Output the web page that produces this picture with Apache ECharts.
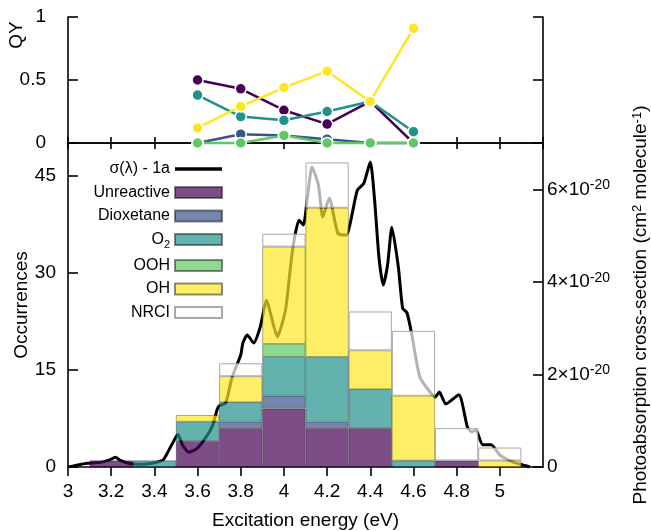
<!DOCTYPE html>
<html>
<head>
<meta charset="utf-8">
<script src="https://cdn.jsdelivr.net/npm/echarts@6/dist/echarts.min.js"></script>
<style>
  html, body { margin: 0; padding: 0; background: #fff; }
  #chartDom { width: 651px; height: 531px; }
</style>
</head>
<body>
<div id="chartDom"></div>
<script>
// bin centres of the histogram (eV), bins are 0.2 eV wide
var binCentres = [3.2, 3.4, 3.6, 3.8, 4.0, 4.2, 4.4, 4.6, 4.8, 5.0];
var unreactive = [1, 0, 4, 6, 9, 6, 6, 0, 1, 0];
var dioxetane  = [0, 0, 0, 1, 2, 1, 0, 0, 0, 0];
var o2         = [0, 1, 3, 3, 6, 10, 6, 1, 0, 0];
var ooh        = [0, 0, 0, 0, 2, 0, 0, 0, 0, 0];
var oh         = [0, 0, 1, 4, 15, 23, 6, 10, 0, 1];
var nrci       = [0, 0, 0, 2, 2, 7, 6, 10, 5, 2];

// slots of the hidden category axis used for stacking (same span as the energy axis)
var histSlots = [3.0, 3.2, 3.4, 3.6, 3.8, 4.0, 4.2, 4.4, 4.6, 4.8, 5.0, 5.2];

// quantum yields (top panel)
var qyEnergy     = [3.6, 3.8, 4.0, 4.2, 4.4, 4.6];
var qyUnreactive = [0.5, 0.43, 0.26, 0.15, 0.33, 0];
var qyDioxetane  = [0, 0.07, 0.06, 0.03, 0, 0];
var qyO2         = [0.38, 0.21, 0.18, 0.25, 0.33, 0.09];
var qyOOH        = [0, 0, 0.06, 0, 0, 0];
var qyOH         = [0.12, 0.29, 0.44, 0.57, 0.33, 0.91];

// absorption spectrum, x in eV, y in 1e-20 cm2 molecule-1
var specEnergy = [3.00, 3.04, 3.09, 3.15, 3.19, 3.22, 3.24, 3.28, 3.33, 3.39, 3.44, 3.46, 3.50, 3.51, 3.53, 3.56,
  3.60, 3.64, 3.67, 3.69, 3.70, 3.73, 3.76, 3.80, 3.81, 3.83, 3.86, 3.89, 3.92, 3.94, 3.97, 3.99, 4.01, 4.04,
  4.07, 4.09, 4.11, 4.13, 4.16, 4.18, 4.21, 4.25, 4.29, 4.31, 4.34, 4.37, 4.40, 4.42, 4.44, 4.46, 4.48, 4.50,
  4.53, 4.55, 4.57, 4.59, 4.63, 4.68, 4.70, 4.72, 4.75, 4.81, 4.85, 4.87, 4.89, 4.92, 4.96, 5.00, 5.06, 5.11, 5.14];
var specValue = [0, 0.04, 0.08, 0.1, 0.15, 0.21, 0.15, 0.08, 0.06, 0.08, 0.15, 0.3, 0.65, 0.7, 0.48, 0.32,
  0.41, 0.65, 0.9, 1.23, 1.32, 1.38, 1.94, 2.42, 2.68, 2.85, 2.68, 3.02, 3.6, 3.28, 2.81, 3.07, 3.46, 4.69,
  5.33, 5.23, 5.87, 6.48, 6.09, 5.4, 5.81, 5.05, 5.01, 5.33, 5.98, 6.13, 6.59, 5.77, 4.54, 3.93, 4.36, 5.18,
  4.32, 3.43, 3.33, 2.92, 1.94, 1.6, 1.51, 1.62, 1.36, 1.56, 0.86, 0.76, 0.8, 0.48, 0.48, 0.26, 0.11, 0.04, 0];

var barNames = ['Unreactive', 'Dioxetane', 'O2', 'OOH', 'OH', 'NRCI'];
var barData = [unreactive, dioxetane, o2, ooh, oh, nrci];
var barColors = ['rgba(68,1,84,0.7)', 'rgba(59,82,139,0.7)', 'rgba(33,145,140,0.7)',
  'rgba(94,201,98,0.7)', 'rgba(253,231,37,0.7)', 'rgba(255,255,255,0.7)'];
var qyData = [qyUnreactive, qyDioxetane, qyO2, qyOOH, qyOH];
var qyColors = ['#440154', '#3b528b', '#21918c', '#5ec962', '#fde725'];

var FONT = 'Liberation Sans';
var TICK_FS = 19;
var chart = echarts.init(document.getElementById('chartDom'));

function pairs(xs, ys) {
    return xs.map(function (x, i) { return [x, ys[i]]; });
}

// put each bin count on its slot of the category axis, empty where nothing
function toSlots(counts) {
    return histSlots.map(function (s) {
        for (var i = 0; i < binCentres.length; i++) {
            if (Math.abs(binCentres[i] - s) < 1e-6) {
                return counts[i] === 0 ? '-' : counts[i];
            }
        }
        return '-';
    });
}

var series = [{
    name: 'σ(λ) - 1a',
    type: 'line',
    xAxisIndex: 2,
    yAxisIndex: 3,
    data: pairs(specEnergy, specValue),
    symbol: 'none',
    smooth: 0.2,
    z: 1,
    lineStyle: { color: '#000', width: 3 },
    itemStyle: { color: '#000' }
}];

barNames.forEach(function (n, k) {
    series.push({
        name: n,
        type: 'bar',
        xAxisIndex: 3,
        yAxisIndex: 2,
        stack: 'hist',
        barWidth: 43.2,
        z: 2,
        data: toSlots(barData[k]),
        itemStyle: {
            color: barColors[k],
            borderColor: n === 'NRCI' ? '#a8a8a8' : 'rgba(0,0,0,0.45)',
            borderWidth: n === 'NRCI' ? 1 : 0.7
        }
    });
});

qyData.forEach(function (d, k) {
    series.push({
        name: 'QY ' + barNames[k],
        type: 'line',
        xAxisIndex: 0,
        yAxisIndex: 0,
        data: pairs(qyEnergy, d),
        symbol: 'circle',
        symbolSize: 11,
        clip: false,
        z: 5,
        lineStyle: { color: qyColors[k], width: 2.5 },
        itemStyle: { color: qyColors[k], borderColor: '#fff', borderWidth: 1.5 }
    });
});

var lineSt = { color: '#000', width: 1.6 };
var labelStyle = { color: '#000', fontFamily: FONT, fontSize: TICK_FS };
var nameStyle = { color: '#000', fontFamily: FONT, fontSize: 19 };

var option = {
    animation: false,
    backgroundColor: '#fff',
    grid: [
        { left: 68, right: 108, top: 17, height: 126, outerBoundsMode: 'none', containLabel: false },
        { left: 68, right: 108, top: 143, bottom: 64, outerBoundsMode: 'none', containLabel: false }
    ],
    legend: {
        orient: 'vertical',
        align: 'right',
        right: 428,
        top: 161,
        padding: 0,
        itemWidth: 47,
        itemHeight: 11,
        itemGap: 7.5,
        selectedMode: false,
        data: [{ name: 'σ(λ) - 1a', icon: 'path://M0,0 L47,0 L47,3.6 L0,3.6 Z', itemStyle: { color: '#000' } }]
            .concat(barNames.map(function (n) { return { name: n, icon: 'rect' }; })),
        formatter: function (n) {
            return n === 'O2' ? '{t|O}{s|2}' : '{t|' + n + '}';
        },
        textStyle: {
            color: '#000', fontFamily: FONT, fontSize: 16,
            rich: {
                t: { color: '#000', fontFamily: FONT, fontSize: 16 },
                s: { color: '#000', fontFamily: FONT, fontSize: 11, padding: [10, 0, 0, 0] }
            }
        }
    },
    xAxis: [
        {
            gridIndex: 0, type: 'value', position: 'bottom', min: 3, max: 5.2, interval: 0.2,
            axisLine: { lineStyle: lineSt }, axisTick: { inside: true, length: 6, lineStyle: lineSt },
            axisLabel: { show: false }, splitLine: { show: false }
        },
        {
            gridIndex: 0, type: 'value', position: 'top', min: 3, max: 5.2, interval: 0.2,
            axisLine: { lineStyle: lineSt }, axisTick: { inside: true, length: 6, lineStyle: lineSt },
            axisLabel: { show: false }, splitLine: { show: false }
        },
        {
            gridIndex: 1, type: 'value', position: 'bottom', min: 3, max: 5.2, interval: 0.2,
            axisLine: { lineStyle: lineSt }, axisTick: { length: 9, lineStyle: lineSt },
            axisLabel: Object.assign({ margin: 15, showMaxLabel: false }, labelStyle),
            splitLine: { show: false },
            name: 'Excitation energy (eV)', nameLocation: 'middle', nameGap: 44, nameMoveOverlap: false,
            nameTextStyle: nameStyle
        },
        {
            gridIndex: 1, type: 'category', data: histSlots, boundaryGap: false, show: false
        }
    ],
    yAxis: [
        {
            gridIndex: 0, type: 'value', position: 'left', min: 0, max: 1, interval: 0.5,
            axisLine: { show: true, lineStyle: lineSt },
            axisTick: { show: true, inside: true, length: 10, lineStyle: lineSt },
            axisLabel: Object.assign({ margin: 22 }, labelStyle),
            splitLine: { show: false },
            name: 'QY', nameLocation: 'middle', nameGap: 42, nameRotate: 90, nameMoveOverlap: false,
            nameTextStyle: Object.assign({ padding: [0, 0, 0, 90] }, nameStyle)
        },
        {
            gridIndex: 0, type: 'value', position: 'right', min: 0, max: 1, interval: 0.5,
            axisLine: { show: true, lineStyle: lineSt },
            axisTick: { show: true, inside: true, length: 10, lineStyle: lineSt },
            axisLabel: { show: false }, splitLine: { show: false }
        },
        {
            gridIndex: 1, type: 'value', position: 'left', min: 0, max: 50, interval: 15,
            axisLine: { show: true, lineStyle: lineSt },
            axisTick: { show: true, inside: true, length: 10, lineStyle: lineSt },
            axisLabel: Object.assign({ margin: 12, showMaxLabel: false }, labelStyle),
            splitLine: { show: false },
            name: 'Occurrences', nameLocation: 'middle', nameGap: 37, nameRotate: 90, nameMoveOverlap: false,
            nameTextStyle: nameStyle
        },
        {
            gridIndex: 1, type: 'value', position: 'right', min: 0, max: 7, interval: 2,
            axisLine: { show: true, lineStyle: lineSt },
            axisTick: { show: true, inside: true, length: 10, lineStyle: lineSt },
            axisLabel: {
                margin: 4, showMaxLabel: false, color: '#000', fontFamily: FONT, fontSize: TICK_FS,
                formatter: function (v) {
                    return v === 0 ? '{a|0}' : '{a|' + v + '×10}{b|-20}';
                },
                rich: {
                    a: { color: '#000', fontFamily: FONT, fontSize: TICK_FS, lineHeight: 22 },
                    b: { color: '#000', fontFamily: FONT, fontSize: 14, verticalAlign: 'top' }
                }
            },
            splitLine: { show: false },
            name: 'Photoabsorption cross-section (cm{b|2} molecule{b|-1})',
            nameLocation: 'middle', nameGap: 88, nameRotate: 90, nameMoveOverlap: false,
            nameTextStyle: {
                color: '#000', fontFamily: FONT, fontSize: 19,
                rich: {
                    b: { color: '#000', fontFamily: FONT, fontSize: 13, verticalAlign: 'top' }
                }
            }
        }
    ],
    series: series
};

chart.setOption(option);
</script>
</body>
</html>
